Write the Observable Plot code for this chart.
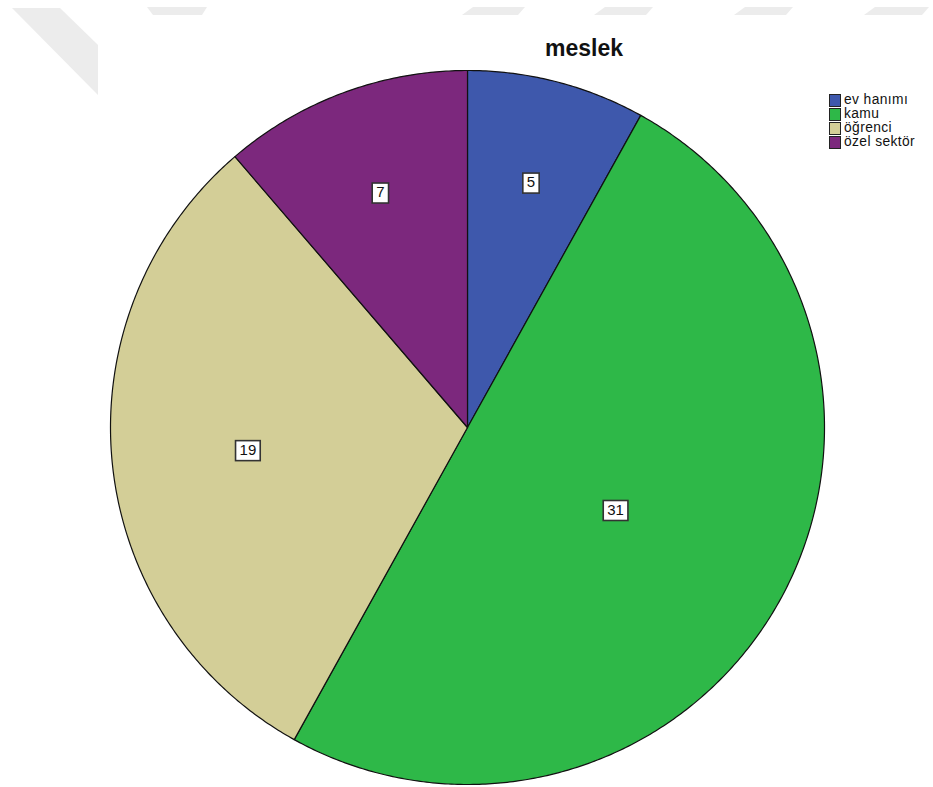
<!DOCTYPE html>
<html><head><meta charset="utf-8">
<script src="https://cdn.jsdelivr.net/npm/d3@7"></script>
<script src="https://cdn.jsdelivr.net/npm/@observablehq/plot@0.6"></script>
<style>
body{margin:0;background:#fff;}
#wrap{position:relative;width:933px;height:787px;overflow:hidden;font-family:Arial,"Liberation Sans",sans-serif;background:#fff}
#wm{position:absolute;left:0;top:0;}
#title{position:absolute;left:484px;width:200px;top:35px;text-align:center;font-weight:bold;font-size:23px;color:#111;}
#legend{position:absolute;left:829px;top:93px;font-size:13.8px;line-height:14px;color:#111;}
.row{display:flex;align-items:center;height:14px;white-space:nowrap}
.row span{line-height:14px;letter-spacing:0.4px}
.sw{width:10px;height:11px;border:1px solid #222;margin-right:3px;flex:none}
#chart{position:absolute;left:0;top:0}
</style></head><body><div id="wrap"><div id="chart"></div><div id="title"></div><div id="legend"></div></div>
<script>
const categories = ["ev hanımı", "kamu", "öğrenci", "özel sektör"];
const counts = [5, 31, 19, 7];
const colors = ["#3E58AC", "#2EB848", "#D3CE97", "#7C287D"];
const titleText = "meslek";

const total = d3.sum(counts);
let acc = 0;
const slices = categories.map((c, i) => {
  const a0 = acc / total * 2 * Math.PI; acc += counts[i];
  const a1 = acc / total * 2 * Math.PI;
  return {cat: c, value: counts[i], a0, a1};
});
const pts = [];
for (const s of slices) {
  pts.push({cat: s.cat, x: 0, y: 0});
  const n = Math.max(4, Math.ceil((s.a1 - s.a0) * 180 / Math.PI * 2));
  for (let k = 0; k <= n; k++) {
    const a = s.a0 + (s.a1 - s.a0) * k / n;
    pts.push({cat: s.cat, x: Math.sin(a), y: Math.cos(a)});
  }
}
const labels = slices.map(s => {
  const mid = (s.a0 + s.a1) / 2, half = (s.a1 - s.a0) / 2;
  const c = 2 * Math.sin(half) / (3 * half);
  const r = c + 0.05;
  return {t: String(s.value), x: r * Math.sin(mid), y: r * Math.cos(mid)};
});

const cx = 467, cy = 427, R = 357;
const plot = Plot.plot({
  width: 933, height: 787, margin: 0,
  style: {background: "transparent"},
  x: {domain: [-1, 1], range: [cx - R, cx + R], axis: null},
  y: {domain: [-1, 1], range: [cy + R, cy - R], axis: null},
  color: {domain: categories, range: colors},
  marks: [
    Plot.line(pts, {x: "x", y: "y", z: "cat", fill: "cat", stroke: "#111", strokeWidth: 1.2, curve: "linear-closed"}),
    Plot.text(labels, {x: "x", y: "y", text: "t", fontSize: 15, fill: "#111", fontFamily: "Arial, Liberation Sans, sans-serif"})
  ]
});
document.getElementById("chart").appendChild(plot);

// label boxes
plot.querySelectorAll('g[aria-label="text"] text').forEach(t => {
  const b = t.getBBox();
  const r = document.createElementNS("http://www.w3.org/2000/svg", "rect");
  r.setAttribute("x", b.x - 4); r.setAttribute("y", b.y);
  r.setAttribute("width", b.width + 8); r.setAttribute("height", b.height + 3);
  r.setAttribute("fill", "#fff"); r.setAttribute("stroke", "#333"); r.setAttribute("stroke-width", 1.6);
  const tr = t.getAttribute("transform");
  if (tr) r.setAttribute("transform", tr);
  t.parentNode.insertBefore(r, t);
});

document.getElementById("title").textContent = titleText;
const lg = d3.select("#legend");
categories.forEach((c, i) => {
  const row = lg.append("div").attr("class", "row");
  row.append("div").attr("class", "sw").style("background", colors[i]);
  row.append("span").text(c);
});

// faint watermark decoration
const wm = d3.select("#wrap").append("svg").attr("id", "wm").attr("width", 933).attr("height", 120);
const shapes = [
  [[12,8],[60,8],[98,45],[98,95]],
  [[147,7],[207,7],[202,15],[153,15]],
  [[473,7],[525,7],[518,15],[462,15]],
  [[605,7],[653,7],[646,15],[594,15]],
  [[745,7],[793,7],[786,15],[734,15]],
  [[875,7],[929,7],[922,15],[864,15]]
];
wm.selectAll("polygon").data(shapes).join("polygon")
  .attr("points", d => d.map(p => p.join(",")).join(" "))
  .attr("fill", "#ececec");
</script>
</body></html>
